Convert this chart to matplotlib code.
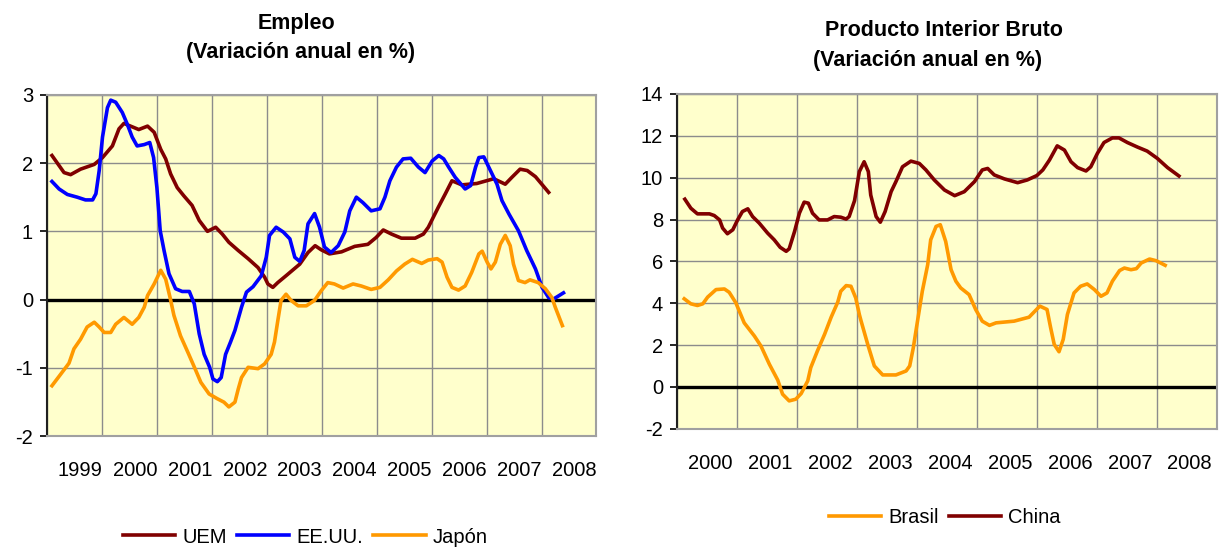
# Empleo y PIB: variación anual en %
import numpy as np
import matplotlib
matplotlib.use("Agg")
from matplotlib import pyplot as plt

plt.rcParams['font.family'] = ['Liberation Sans', 'DejaVu Sans']

# ---- datos: Empleo (x en años decimales) ----
uem_x = [1999.09, 1999.31, 1999.43, 1999.61, 1999.86, 2000.01, 2000.19, 2000.31, 2000.40, 2000.55,
         2000.67, 2000.83, 2000.95, 2001.07, 2001.16, 2001.25, 2001.37, 2001.49, 2001.64, 2001.77,
         2001.92, 2002.07, 2002.19, 2002.31, 2002.48, 2002.66, 2002.84, 2002.96, 2003.02, 2003.11,
         2003.20, 2003.35, 2003.60, 2003.75, 2003.88, 2003.99, 2004.14, 2004.36, 2004.60, 2004.84,
         2004.99, 2005.12, 2005.27, 2005.45, 2005.70, 2005.85, 2005.94, 2006.12, 2006.25, 2006.37,
         2006.55, 2006.82, 2007.13, 2007.34, 2007.46, 2007.61, 2007.74, 2007.89, 2008.13]
uem_y = [2.11, 1.86, 1.83, 1.91, 1.98, 2.08, 2.25, 2.50, 2.58, 2.53,
         2.49, 2.54, 2.45, 2.20, 2.06, 1.84, 1.64, 1.52, 1.38, 1.16,
         1.00, 1.06, 0.96, 0.84, 0.72, 0.60, 0.47, 0.33, 0.23, 0.18,
         0.25, 0.35, 0.52, 0.69, 0.79, 0.73, 0.67, 0.70, 0.78, 0.81,
         0.91, 1.02, 0.96, 0.90, 0.90, 0.96, 1.06, 1.35, 1.55, 1.74,
         1.68, 1.70, 1.77, 1.69, 1.79, 1.91, 1.89, 1.80, 1.57]

eeuu_x = [1999.09, 1999.22, 1999.37, 1999.55, 1999.70, 1999.83, 1999.89, 1999.95, 2000.01, 2000.10,
          2000.16, 2000.25, 2000.37, 2000.46, 2000.55, 2000.64, 2000.77, 2000.87, 2000.94, 2001.00,
          2001.06, 2001.13, 2001.22, 2001.34, 2001.46, 2001.59, 2001.68, 2001.77, 2001.86, 2001.96,
          2002.02, 2002.10, 2002.17, 2002.25, 2002.34, 2002.42, 2002.54, 2002.63, 2002.75, 2002.90,
          2002.99, 2003.05, 2003.17, 2003.30, 2003.42, 2003.51, 2003.60, 2003.68, 2003.75, 2003.87,
          2003.96, 2004.05, 2004.17, 2004.30, 2004.42, 2004.51, 2004.63, 2004.75, 2004.90, 2005.06,
          2005.15, 2005.24, 2005.36, 2005.48, 2005.62, 2005.76, 2005.88, 2006.01, 2006.13, 2006.22,
          2006.31, 2006.43, 2006.61, 2006.71, 2006.80, 2006.86, 2006.95, 2007.04, 2007.19, 2007.28,
          2007.41, 2007.58, 2007.73, 2007.89, 2008.01, 2008.13, 2008.22, 2008.40]
eeuu_y = [1.73, 1.62, 1.54, 1.50, 1.46, 1.46, 1.55, 1.89, 2.38, 2.81,
          2.92, 2.89, 2.74, 2.57, 2.38, 2.25, 2.27, 2.30, 2.08, 1.64,
          1.01, 0.72, 0.38, 0.16, 0.12, 0.12, -0.06, -0.50, -0.80, -0.99,
          -1.16, -1.20, -1.14, -0.80, -0.62, -0.45, -0.11, 0.11, 0.19, 0.35,
          0.62, 0.94, 1.06, 0.99, 0.89, 0.62, 0.56, 0.72, 1.11, 1.26,
          1.06, 0.77, 0.69, 0.79, 0.99, 1.30, 1.50, 1.42, 1.30, 1.33,
          1.50, 1.74, 1.94, 2.06, 2.07, 1.94, 1.86, 2.03, 2.11, 2.06,
          1.94, 1.79, 1.62, 1.67, 1.94, 2.08, 2.09, 1.94, 1.69, 1.45,
          1.25, 1.01, 0.72, 0.45, 0.18, 0.03, 0.01, 0.10]

japon_x = [1999.09, 1999.25, 1999.40, 1999.49, 1999.61, 1999.73, 1999.86, 1999.95, 2000.04, 2000.16,
           2000.25, 2000.40, 2000.55, 2000.67, 2000.77, 2000.83, 2000.95, 2001.07, 2001.16, 2001.24,
           2001.31, 2001.43, 2001.58, 2001.71, 2001.80, 2001.95, 2002.10, 2002.22, 2002.31, 2002.42,
           2002.48, 2002.54, 2002.66, 2002.84, 2002.96, 2003.08, 2003.14, 2003.20, 2003.26, 2003.35,
           2003.44, 2003.57, 2003.72, 2003.87, 2003.99, 2004.11, 2004.23, 2004.39, 2004.57, 2004.72,
           2004.90, 2005.06, 2005.21, 2005.36, 2005.51, 2005.65, 2005.82, 2005.94, 2006.10, 2006.19,
           2006.28, 2006.37, 2006.49, 2006.61, 2006.73, 2006.86, 2006.92, 2007.01, 2007.08, 2007.16,
           2007.25, 2007.34, 2007.43, 2007.49, 2007.58, 2007.70, 2007.79, 2007.94, 2008.07, 2008.19,
           2008.25, 2008.38]
japon_y = [-1.26, -1.09, -0.93, -0.72, -0.58, -0.40, -0.33, -0.40, -0.48, -0.48,
           -0.36, -0.26, -0.36, -0.26, -0.11, 0.06, 0.23, 0.43, 0.30, 0.03,
           -0.23, -0.53, -0.80, -1.04, -1.21, -1.38, -1.45, -1.50, -1.57, -1.50,
           -1.31, -1.14, -0.99, -1.01, -0.94, -0.80, -0.62, -0.31, -0.01, 0.08,
           -0.01, -0.09, -0.09, -0.01, 0.13, 0.25, 0.23, 0.17, 0.23, 0.20,
           0.15, 0.18, 0.29, 0.42, 0.52, 0.59, 0.53, 0.58, 0.60, 0.55,
           0.33, 0.18, 0.14, 0.20, 0.40, 0.67, 0.71, 0.55, 0.45, 0.55,
           0.81, 0.94, 0.79, 0.52, 0.28, 0.25, 0.29, 0.25, 0.16, 0.03,
           -0.11, -0.38]

# ---- datos: PIB ----
china_x = [2000.13, 2000.23, 2000.34, 2000.54, 2000.62, 2000.71, 2000.76, 2000.84, 2000.93, 2001.01,
           2001.09, 2001.18, 2001.26, 2001.37, 2001.51, 2001.62, 2001.72, 2001.82, 2001.87, 2001.96,
           2002.04, 2002.12, 2002.19, 2002.26, 2002.37, 2002.51, 2002.62, 2002.73, 2002.82, 2002.87,
           2002.96, 2003.04, 2003.12, 2003.19, 2003.23, 2003.32, 2003.39, 2003.47, 2003.57, 2003.65,
           2003.76, 2003.90, 2004.04, 2004.15, 2004.29, 2004.46, 2004.63, 2004.79, 2004.96, 2005.09,
           2005.18, 2005.29, 2005.46, 2005.68, 2005.84, 2006.00, 2006.10, 2006.21, 2006.34, 2006.46,
           2006.57, 2006.68, 2006.82, 2006.90, 2007.01, 2007.12, 2007.26, 2007.37, 2007.51, 2007.68,
           2007.84, 2008.01, 2008.18, 2008.37]
china_y = [8.97, 8.54, 8.27, 8.27, 8.19, 7.98, 7.59, 7.32, 7.51, 7.98,
           8.38, 8.51, 8.14, 7.83, 7.35, 7.03, 6.67, 6.48, 6.60, 7.43,
           8.30, 8.83, 8.78, 8.30, 7.98, 7.98, 8.14, 8.11, 8.02, 8.14,
           8.90, 10.29, 10.76, 10.29, 9.17, 8.14, 7.87, 8.38, 9.33, 9.81,
           10.52, 10.79, 10.68, 10.37, 9.89, 9.41, 9.14, 9.33, 9.81, 10.37,
           10.44, 10.13, 9.94, 9.76, 9.89, 10.10, 10.37, 10.84, 11.52, 11.32,
           10.76, 10.48, 10.32, 10.52, 11.16, 11.68, 11.90, 11.90, 11.68, 11.46,
           11.27, 10.92, 10.48, 10.08]

brasil_x = [2000.12, 2000.23, 2000.34, 2000.43, 2000.51, 2000.65, 2000.79, 2000.87, 2000.98, 2001.12,
            2001.29, 2001.40, 2001.54, 2001.68, 2001.76, 2001.87, 2001.98, 2002.07, 2002.18, 2002.23,
            2002.34, 2002.46, 2002.57, 2002.68, 2002.73, 2002.82, 2002.90, 2002.98, 2003.04, 2003.07,
            2003.18, 2003.29, 2003.43, 2003.65, 2003.82, 2003.88, 2003.94, 2004.01, 2004.09, 2004.18,
            2004.23, 2004.32, 2004.39, 2004.48, 2004.57, 2004.65, 2004.73, 2004.87, 2004.98, 2005.09,
            2005.21, 2005.32, 2005.62, 2005.87, 2006.05, 2006.17, 2006.23, 2006.29, 2006.37, 2006.44,
            2006.51, 2006.62, 2006.73, 2006.84, 2006.96, 2007.07, 2007.17, 2007.26, 2007.38, 2007.46,
            2007.57, 2007.66, 2007.74, 2007.88, 2007.99, 2008.14]
brasil_y = [4.21, 3.97, 3.89, 3.97, 4.29, 4.65, 4.68, 4.52, 4.02, 3.06,
            2.43, 1.95, 1.08, 0.32, -0.35, -0.67, -0.59, -0.32, 0.29, 0.92,
            1.71, 2.51, 3.33, 4.05, 4.57, 4.84, 4.81, 4.25, 3.46, 3.14,
            2.03, 1.00, 0.57, 0.57, 0.76, 1.00, 1.87, 3.14, 4.57, 5.84,
            7.03, 7.67, 7.75, 6.95, 5.60, 5.05, 4.73, 4.41, 3.70, 3.14,
            2.94, 3.06, 3.14, 3.33, 3.86, 3.70, 2.83, 2.03, 1.68, 2.27,
            3.46, 4.49, 4.81, 4.92, 4.65, 4.33, 4.49, 5.05, 5.56, 5.68,
            5.60, 5.65, 5.92, 6.11, 6.03, 5.81]

years_emp = list(range(1999, 2009))
years_pib = list(range(2000, 2009))

RED = '#800000'
BLUE = '#0000FF'
ORANGE = '#FF9900'
BG = '#FFFFCC'
GRID = '#8C8C8C'
FS = 14.5
TFS = 15.5


def style_axes(ax, years, yticks, label_shift):
    ax.set_facecolor(BG)
    ax.set_xlim(years[0], years[-1] + 1)
    ax.set_ylim(yticks[0], yticks[-1])
    ax.set_xticks(range(years[0], years[-1] + 2))
    ax.set_xticklabels([])
    ax.set_xticks([y + 0.5 + label_shift for y in years], minor=True)
    ax.set_xticklabels([str(y) for y in years], minor=True, fontsize=FS)
    ax.tick_params(axis='x', which='both', length=0, pad=18)
    ax.set_yticks(yticks)
    ax.set_yticklabels([str(v) for v in yticks], fontsize=FS)
    ax.tick_params(axis='y', length=5, width=1.2, direction='out', pad=5, color='black')
    ax.grid(True, which='major', color=GRID, linewidth=1.0)
    ax.set_axisbelow(True)
    for s in ['top', 'right', 'bottom']:
        ax.spines[s].set_color('#A0A0A0')
        ax.spines[s].set_linewidth(1.5)
    ax.spines['left'].set_color('#202020')
    ax.spines['left'].set_linewidth(1.5)
    ax.axhline(0, color='black', linewidth=2.4, zorder=2)


fig = plt.figure(figsize=(12.21, 5.48), dpi=100)

# ---- Empleo ----
ax1 = fig.add_axes([0.0385, 0.2038, 0.450, 0.6234])
style_axes(ax1, years_emp, [-2, -1, 0, 1, 2, 3], 0.1)
l1, = ax1.plot(uem_x, uem_y, color=RED, lw=2.6, label='UEM', zorder=3, solid_joinstyle='round')
l2, = ax1.plot(eeuu_x, eeuu_y, color=BLUE, lw=2.6, label='EE.UU.', zorder=3, solid_joinstyle='round')
l3, = ax1.plot(japon_x, japon_y, color=ORANGE, lw=2.6, label='Japón', zorder=3, solid_joinstyle='round')
fig.text(0.243, 0.958, 'Empleo', ha='center', va='center', fontsize=TFS, fontweight='bold')
fig.text(0.246, 0.904, '(Variación anual en %)', ha='center', va='center', fontsize=TFS, fontweight='bold')
fig.legend(handles=[l1, l2, l3], loc='center', bbox_to_anchor=(0.25, 0.02), ncol=3, frameon=False,
           fontsize=FS, handlelength=2.6, handletextpad=0.35, columnspacing=0.5)

# ---- PIB ----
ax2 = fig.add_axes([0.5545, 0.2177, 0.442, 0.6108])
style_axes(ax2, years_pib, [-2, 0, 2, 4, 6, 8, 10, 12, 14], 0.05)
b1, = ax2.plot(brasil_x, brasil_y, color=ORANGE, lw=2.6, label='Brasil', zorder=3, solid_joinstyle='round')
b2, = ax2.plot(china_x, china_y, color=RED, lw=2.6, label='China', zorder=3, solid_joinstyle='round')
fig.text(0.773, 0.945, 'Producto Interior Bruto', ha='center', va='center', fontsize=TFS, fontweight='bold')
fig.text(0.760, 0.890, '(Variación anual en %)', ha='center', va='center', fontsize=TFS, fontweight='bold')
fig.legend(handles=[b1, b2], loc='center', bbox_to_anchor=(0.774, 0.055), ncol=2, frameon=False,
           fontsize=FS, handlelength=2.6, handletextpad=0.35, columnspacing=0.5)

plt.savefig('out.png', dpi=100)
